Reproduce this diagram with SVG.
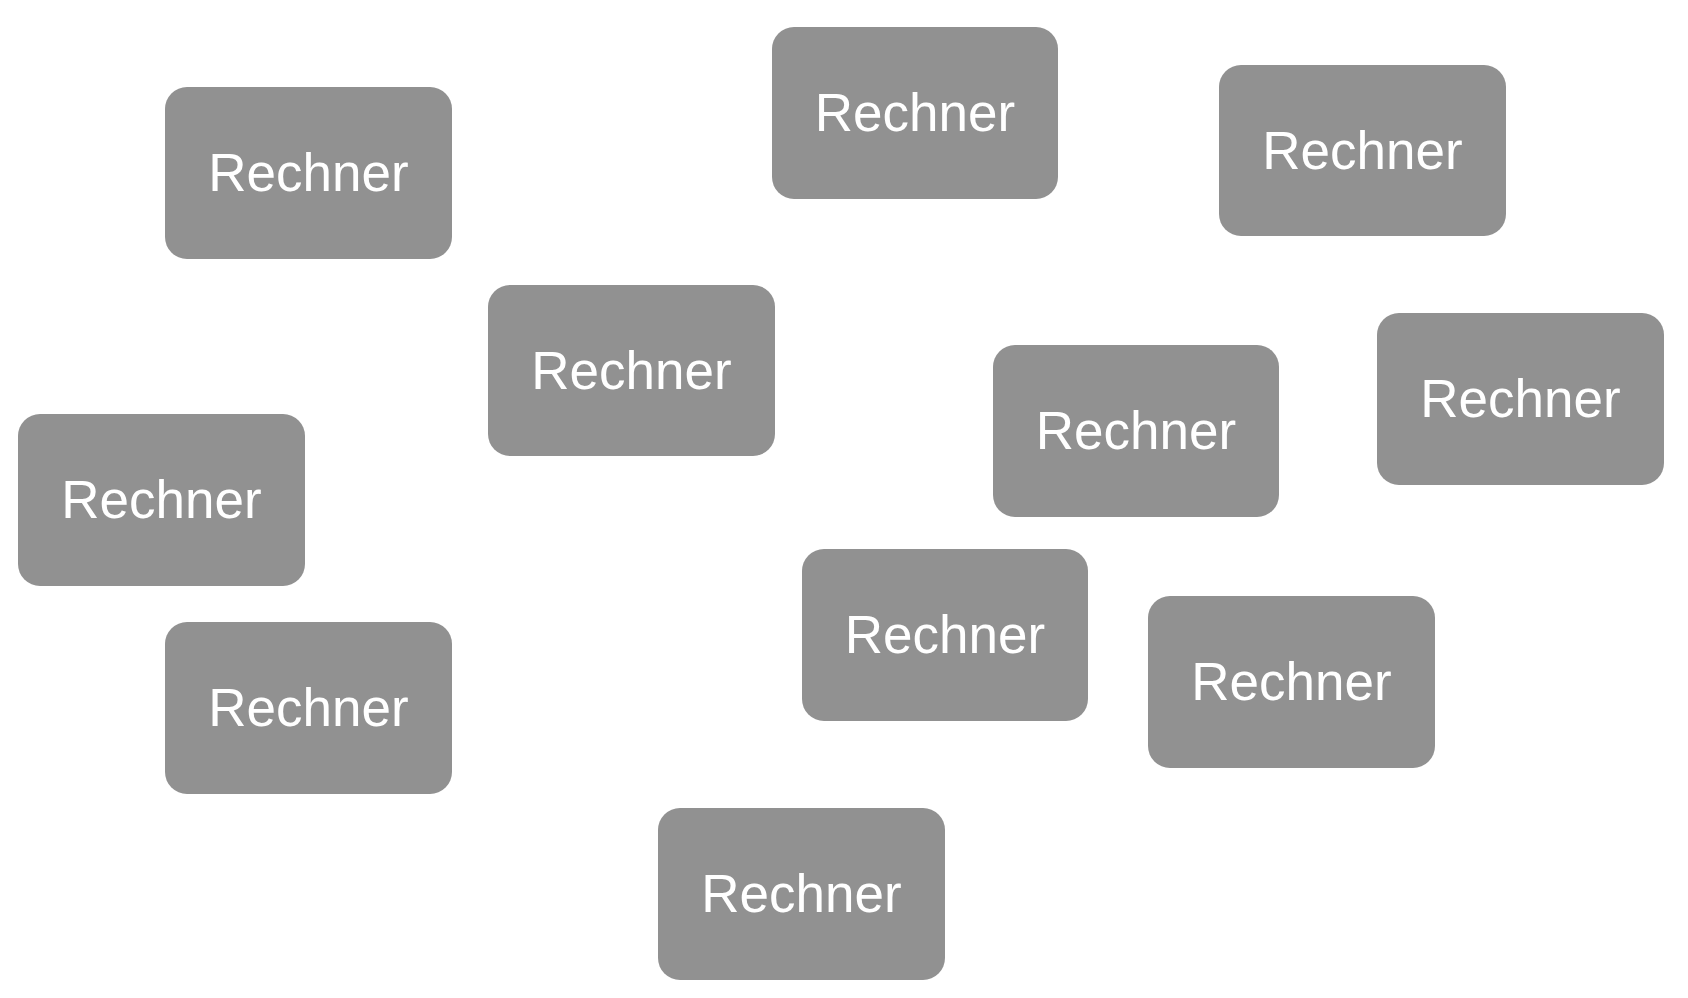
<svg xmlns="http://www.w3.org/2000/svg" width="1688" height="998" viewBox="0 0 1688 998">
<style>
.box{fill:#919191}
.lbl{fill:#ffffff;font-family:"Liberation Sans",Arial,Helvetica,sans-serif;font-size:53px;text-anchor:middle}
</style>
<rect width="1688" height="998" fill="#ffffff"/>
<g id="connectors"></g>
<g id="n1"><rect class="box" x="165" y="87" width="287" height="172" rx="22"/><text class="lbl" x="308.5" y="191">Rechner</text></g>
<g id="n2"><rect class="box" x="772" y="27" width="286" height="172" rx="22"/><text class="lbl" x="915" y="131">Rechner</text></g>
<g id="n3"><rect class="box" x="1219" y="65" width="287" height="171" rx="22"/><text class="lbl" x="1362.5" y="169">Rechner</text></g>
<g id="n4"><rect class="box" x="488" y="285" width="287" height="171" rx="22"/><text class="lbl" x="631.5" y="389">Rechner</text></g>
<g id="n5"><rect class="box" x="993" y="345" width="286" height="172" rx="22"/><text class="lbl" x="1136" y="449">Rechner</text></g>
<g id="n6"><rect class="box" x="1377" y="313" width="287" height="172" rx="22"/><text class="lbl" x="1520.5" y="417">Rechner</text></g>
<g id="n7"><rect class="box" x="18" y="414" width="287" height="172" rx="22"/><text class="lbl" x="161.5" y="518">Rechner</text></g>
<g id="n8"><rect class="box" x="802" y="549" width="286" height="172" rx="22"/><text class="lbl" x="945" y="653">Rechner</text></g>
<g id="n9"><rect class="box" x="165" y="622" width="287" height="172" rx="22"/><text class="lbl" x="308.5" y="726">Rechner</text></g>
<g id="n10"><rect class="box" x="1148" y="596" width="287" height="172" rx="22"/><text class="lbl" x="1291.5" y="700">Rechner</text></g>
<g id="n11"><rect class="box" x="658" y="808" width="287" height="172" rx="22"/><text class="lbl" x="801.5" y="912">Rechner</text></g>
</svg>
